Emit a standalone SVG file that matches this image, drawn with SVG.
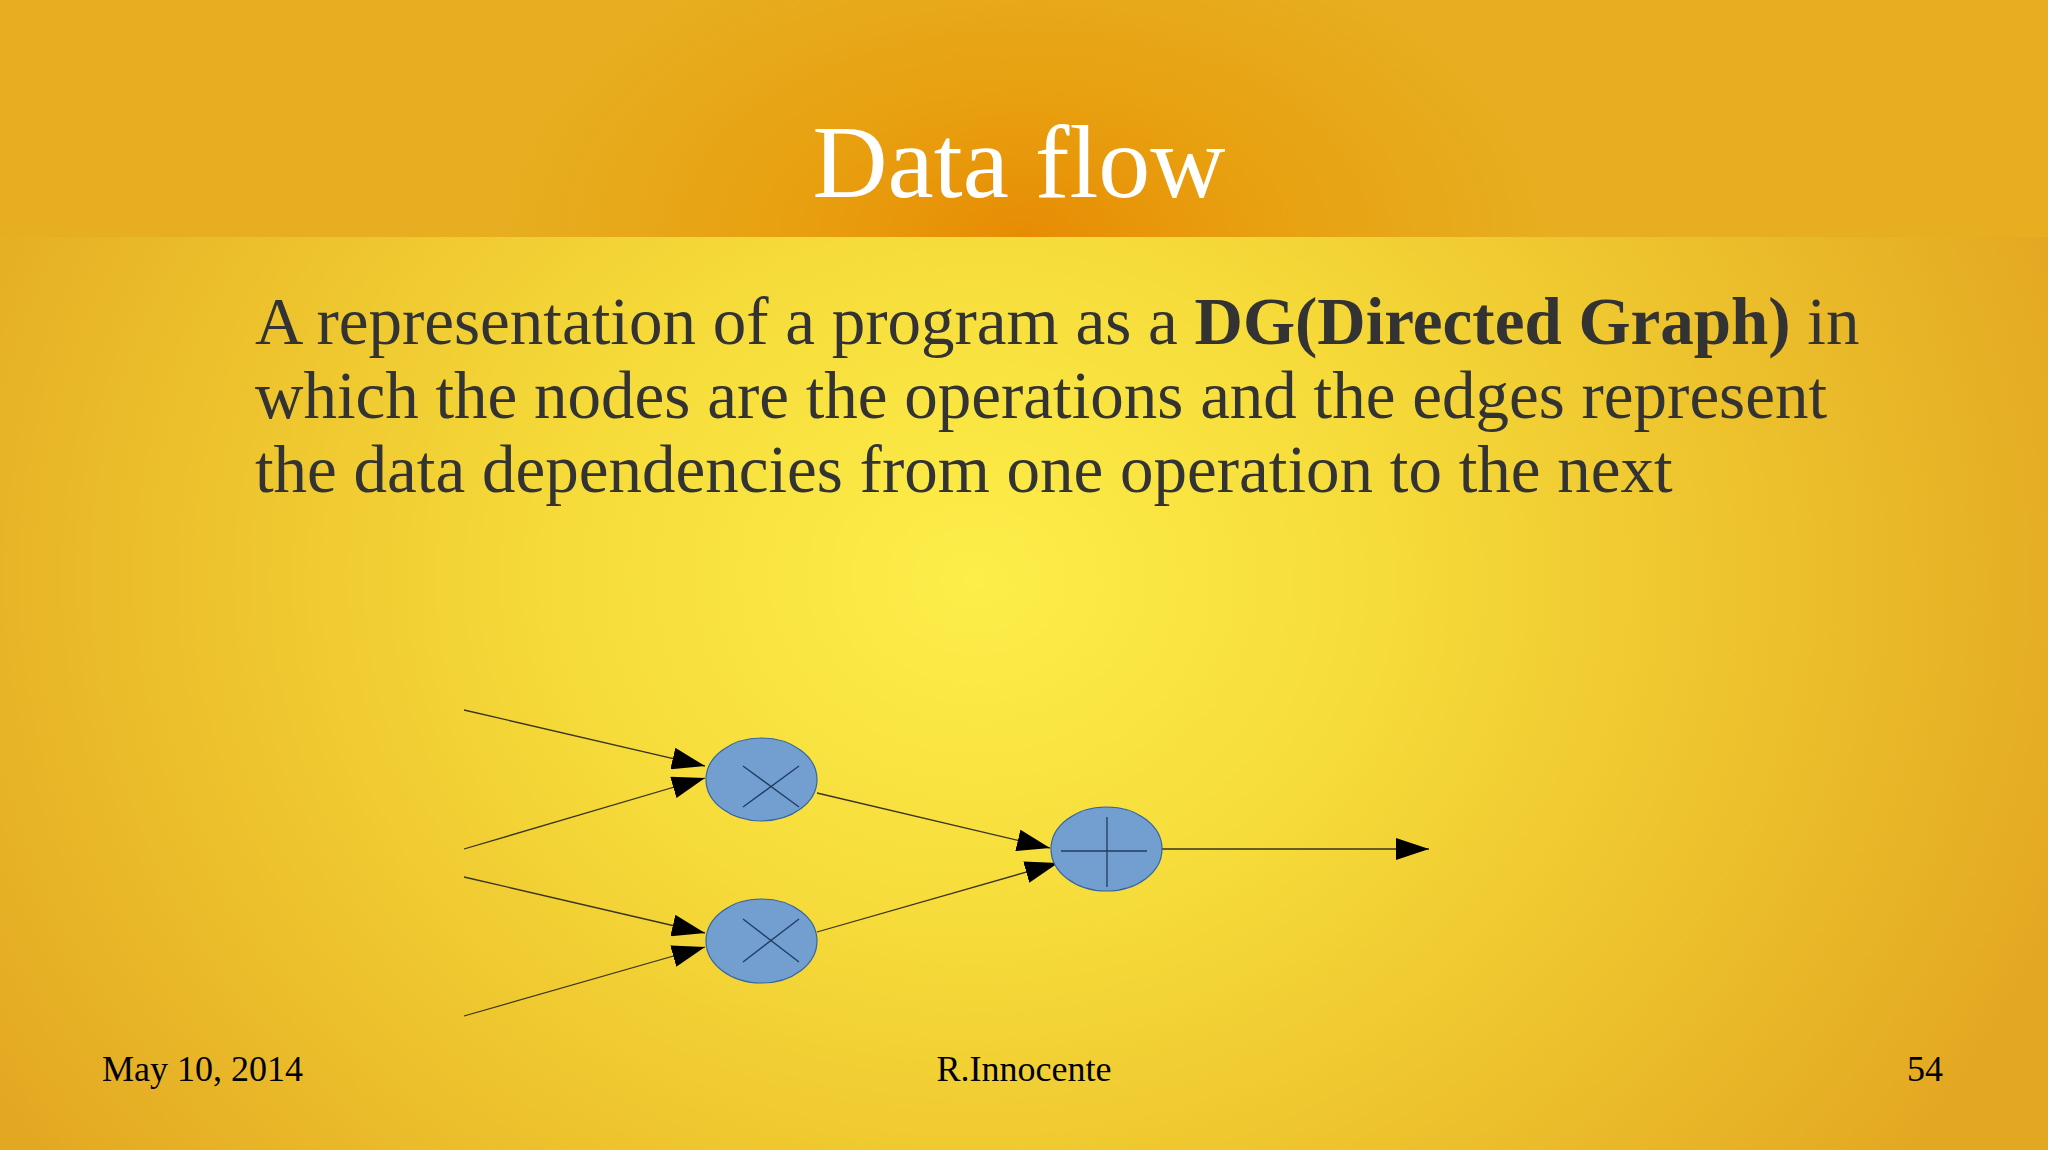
<svg xmlns="http://www.w3.org/2000/svg" width="2048" height="1150" viewBox="0 0 2048 1150">
  <defs>
    <radialGradient id="bodyGrad" gradientUnits="userSpaceOnUse" cx="975" cy="580" r="1150" gradientTransform="translate(975 580) scale(1 0.85) translate(-975 -580)">
      <stop offset="0" stop-color="#fdee4a"/>
      <stop offset="0.35" stop-color="#f6dc3a"/>
      <stop offset="0.7" stop-color="#ecc02c"/>
      <stop offset="1" stop-color="#e3a822"/>
    </radialGradient>
    <radialGradient id="topGrad" gradientUnits="userSpaceOnUse" cx="1024" cy="237" r="520" gradientTransform="translate(1024 237) scale(1 0.6) translate(-1024 -237)">
      <stop offset="0" stop-color="#e78c04"/>
      <stop offset="0.45" stop-color="#e8a010"/>
      <stop offset="1" stop-color="#e6ae20"/>
    </radialGradient>
    <linearGradient id="topSide" x1="0" y1="0" x2="1" y2="0">
      <stop offset="0" stop-color="#e0a824"/>
      <stop offset="0.15" stop-color="#e6b21e"/>
      <stop offset="0.85" stop-color="#e6b21e"/>
      <stop offset="1" stop-color="#e0a824"/>
    </linearGradient>
    <marker id="arrow" markerUnits="userSpaceOnUse" markerWidth="33" markerHeight="22" refX="33" refY="11" orient="auto" viewBox="0 0 33 22">
      <path d="M0,0 L33,11 L0,22 Z" fill="#000"/>
    </marker>
  </defs>
  <style>
    .edge { stroke: #3a3320; stroke-width: 1.3; fill: none; marker-end: url(#arrow); }
    .op { fill: #729fcf; stroke: #3465a4; stroke-width: 1.2; }
    .sym { stroke: #1f3b60; stroke-width: 1.3; fill: none; }
    .title { font-family: "Liberation Serif", "Times New Roman", serif; font-size: 104px; fill: #ffffff; }
    .body { font-family: "Liberation Serif", "Times New Roman", serif; font-size: 67px; fill: #333333; }
    .foot { font-family: "Liberation Serif", "Times New Roman", serif; font-size: 36px; fill: #000000; }
  </style>

  <rect x="0" y="0" width="2048" height="1150" fill="url(#bodyGrad)"/>
  <rect x="0" y="0" width="2048" height="237" fill="url(#topSide)"/>
  <rect x="0" y="0" width="2048" height="237" fill="url(#topGrad)"/>

  <text class="title" x="1019" y="197" text-anchor="middle">Data flow</text>

  <text class="body" x="255" y="344">A representation of a program as a <tspan font-weight="bold">DG(Directed Graph)</tspan> in</text>
  <text class="body" x="255" y="418">which the nodes are the operations and the edges represent</text>
  <text class="body" x="255" y="492">the data dependencies from one operation to the next</text>

  <g id="connectors">
    <line class="edge" x1="464" y1="710" x2="705" y2="766"/>
    <line class="edge" x1="464" y1="849" x2="705" y2="778"/>
    <line class="edge" x1="464" y1="877" x2="705" y2="933"/>
    <line class="edge" x1="464" y1="1016" x2="705" y2="947"/>
    <line class="edge" x1="817" y1="793" x2="1050" y2="848"/>
    <line class="edge" x1="817" y1="932" x2="1058" y2="863"/>
    <line class="edge" x1="1162" y1="849" x2="1429" y2="849"/>
  </g>

  <g id="mul1">
    <ellipse class="op" cx="761.5" cy="779.5" rx="55.5" ry="41.5"/>
    <line class="sym" x1="743" y1="766" x2="799" y2="807"/>
    <line class="sym" x1="743" y1="807" x2="799" y2="766"/>
  </g>
  <g id="mul2">
    <ellipse class="op" cx="761.5" cy="941" rx="55.5" ry="42"/>
    <line class="sym" x1="743" y1="919" x2="799" y2="962"/>
    <line class="sym" x1="743" y1="962" x2="799" y2="919"/>
  </g>
  <g id="add">
    <ellipse class="op" cx="1106.5" cy="849" rx="55.5" ry="42"/>
    <line class="sym" x1="1061" y1="851" x2="1147" y2="851"/>
    <line class="sym" x1="1107" y1="817" x2="1107" y2="887"/>
  </g>

  <text class="foot" x="102" y="1081">May 10, 2014</text>
  <text class="foot" x="1024" y="1081" text-anchor="middle">R.Innocente</text>
  <text class="foot" x="1943" y="1081" text-anchor="end">54</text>
</svg>
